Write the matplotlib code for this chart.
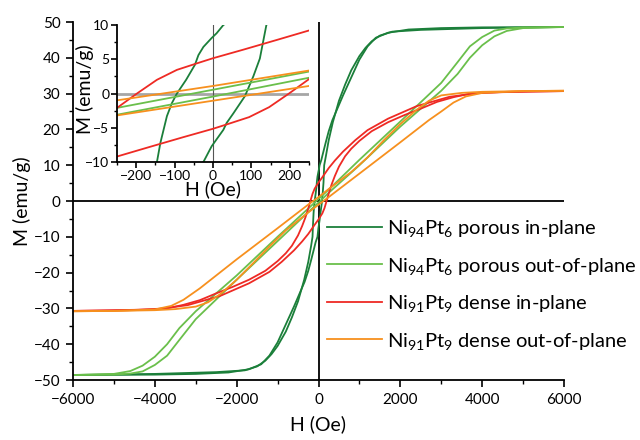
import matplotlib
matplotlib.use("Agg")
import matplotlib.pyplot as plt
from matplotlib.ticker import MultipleLocator

plt.rcParams['font.family'] = ['Lato', 'DejaVu Sans']
plt.rcParams['mathtext.fontset'] = 'custom'
plt.rcParams['mathtext.rm'] = 'Lato'
plt.rcParams['mathtext.it'] = 'Lato:italic'

# Ni94Pt6 porous in-plane
g1_h_dn = [6000, 4000, 3000, 2200, 1700, 1400, 1200, 1000, 800, 600, 450, 340, 250, 180, 120, 70, 27, 9.5, -3.5,
           -25, -38, -47, -70, -94, -107, -120, -137, -146, -180, -250, -350, -500, -650, -800, -1000, -1150,
           -1300, -1500, -1800, -2500, -4000, -6000]
g1_m_dn = [48.6, 48.5, 48.3, 47.9, 47.0, 45.6, 43.2, 39.5, 34.5, 29.5, 25.5, 22.6, 19.5, 16.5, 13.8, 11.5, 10.0, 8.8,
           8.1, 6.8, 5.6, 4.2, 2.0, 0.0, -1.4, -3.3, -7.2, -10.0, -12.5, -17.0, -22.0, -28.0, -32.5, -36.5, -40.5,
           -42.8, -44.6, -46.2, -47.3, -47.8, -48.3, -48.6]
g1_h_up = [-6000, -4000, -3000, -2200, -1700, -1400, -1200, -1000, -800, -600, -450, -340, -250, -180, -120, -70,
           -25, -3.5, 27, 35.5, 53, 83, 105, 122, 139, 180, 250, 350, 500, 650, 800, 1000, 1150, 1300, 1500, 1800,
           2500, 4000, 6000]
g1_m_up = [-48.6, -48.5, -48.3, -47.9, -47.0, -45.6, -43.2, -39.5, -34.5, -29.5, -25.5, -22.6, -19.5, -16.5, -13.8,
           -11.5, -10.0, -7.7, -5.3, -4.3, -2.9, -0.4, 2.5, 5.1, 10.0, 12.5, 17.0, 22.0, 28.0, 32.5, 36.5, 40.5,
           42.8, 44.6, 46.2, 47.3, 47.8, 48.3, 48.6]

# Ni94Pt6 porous out-of-plane
g2_h_dn = [6000, 5000, 4600, 4300, 4000, 3700, 3400, 3000, 2000, 1000, 250, 0, -250, -1000, -2000, -2500, -3000,
           -3400, -3700, -4000, -4300, -4600, -5000, -6000]
g2_m_dn = [48.6, 48.5, 48.2, 47.6, 45.8, 43.2, 38.8, 33.0, 22.2, 11.5, 3.2, 0.55, -2.1, -10.0, -20.8, -25.8, -30.8,
           -35.5, -40.0, -43.5, -46.0, -47.5, -48.3, -48.6]
g2_h_up = [-6000, -5000, -4600, -4300, -4000, -3700, -3400, -3000, -2000, -1000, -250, 0, 250, 1000, 2000, 2500,
           3000, 3400, 3700, 4000, 4300, 4600, 5000, 6000]
g2_m_up = [-48.6, -48.5, -48.2, -47.6, -45.8, -43.2, -38.8, -33.0, -22.0, -11.2, -3.1, -0.45, 2.3, 10.0, 20.8,
           25.8, 30.8, 35.5, 40.0, 43.5, 46.0, 47.5, 48.3, 48.6]

# Ni91Pt9 dense in-plane
r1_h_dn = [6000, 5000, 4000, 3200, 2400, 1700, 1200, 900, 600, 400, 250, 165, 79, 0, -42, -94, -146, -198, -250,
           -320, -400, -500, -650, -800, -1000, -1300, -1700, -2100, -2500, -2900, -3300, -3700, -4500, -6000]
r1_m_dn = [30.7, 30.6, 30.3, 29.1, 26.5, 23.0, 19.8, 17.0, 13.8, 11.3, 9.2, 7.8, 6.4, 5.15, 4.4, 3.45, 2.0, 0.0,
           -2.1, -4.6, -7.0, -9.6, -12.5, -14.6, -16.8, -19.5, -22.0, -24.0, -25.8, -27.7, -29.0, -30.0, -30.4,
           -30.7]
r1_h_up = [-6000, -5000, -4000, -3200, -2400, -1700, -1200, -900, -600, -400, -250, -165, -79, 0, 42, 94, 146, 198,
           250, 320, 400, 500, 650, 800, 1000, 1300, 1700, 2100, 2500, 2900, 3300, 3700, 4500, 6000]
r1_m_up = [-30.7, -30.6, -30.3, -29.1, -26.5, -23.0, -19.8, -17.0, -13.8, -11.3, -9.2, -7.8, -6.4, -5.15, -4.4,
           -3.45, -2.0, 0.0, 2.1, 4.6, 7.0, 9.6, 12.5, 14.6, 16.8, 19.5, 22.0, 24.0, 25.8, 27.7, 29.0, 30.0, 30.4,
           30.7]

# Ni91Pt9 dense out-of-plane
o1_h_dn = [6000, 5000, 4000, 3500, 3000, 2700, 2400, 2000, 1600, 1200, 800, 250, 0, -250, -1000, -2000, -2900,
           -3300, -3600, -4000, -5000, -6000]
o1_m_dn = [30.8, 30.7, 30.5, 30.2, 29.5, 28.0, 25.5, 21.5, 17.0, 12.2, 8.1, 3.35, 1.1, -1.0, -7.6, -16.3, -24.4,
           -27.6, -29.3, -30.3, -30.7, -30.8]
o1_h_up = [-6000, -5000, -4000, -3500, -3000, -2700, -2400, -2000, -1600, -1200, -800, -250, 0, 250, 1000, 2000,
           2700, 3000, 3300, 3600, 4000, 5000, 6000]
o1_m_up = [-30.8, -30.7, -30.5, -30.2, -29.5, -28.3, -26.0, -22.0, -17.4, -12.7, -8.2, -3.2, -1.05, 1.1, 7.65,
           16.4, 22.6, 25.0, 27.5, 29.2, 30.2, 30.7, 30.8]

labels = [r'Ni$_{94}$Pt$_{6}$ porous in-plane', r'Ni$_{94}$Pt$_{6}$ porous out-of-plane',
          r'Ni$_{91}$Pt$_{9}$ dense in-plane', r'Ni$_{91}$Pt$_{9}$ dense out-of-plane']
colors = ['#1b7f3a', '#6abf4b', '#ee2a24', '#f7901e']
loops = [(g1_h_dn, g1_m_dn, g1_h_up, g1_m_up),
         (g2_h_dn, g2_m_dn, g2_h_up, g2_m_up),
         (r1_h_dn, r1_m_dn, r1_h_up, r1_m_up),
         (o1_h_dn, o1_m_dn, o1_h_up, o1_m_up)]


def style_axes(ax, fs):
    for s in ('top', 'right'):
        ax.spines[s].set_visible(False)
    for s in ('left', 'bottom'):
        ax.spines[s].set_linewidth(1.3)
    ax.tick_params(which='major', direction='out', length=5, width=1.2, labelsize=fs, pad=2)
    ax.tick_params(which='minor', direction='out', length=3, width=1.0)


fig = plt.figure(figsize=(6.4, 4.4), dpi=100)
ax = fig.add_axes([73 / 640, 60 / 440, 491 / 640, 358 / 440])

ax.axhline(0, color='black', lw=1.3, zorder=1)
ax.axvline(0, color='black', lw=1.3, zorder=1)
for (hd, md, hu, mu), c, lab in zip(loops, colors, labels):
    ax.plot(hd, md, color=c, lw=1.3, label=lab, zorder=2)
    ax.plot(hu, mu, color=c, lw=1.3, zorder=2)

ax.set_xlim(-6000, 6000)
ax.set_ylim(-50, 50)
ax.xaxis.set_major_locator(MultipleLocator(2000))
ax.xaxis.set_minor_locator(MultipleLocator(1000))
ax.yaxis.set_major_locator(MultipleLocator(10))
ax.yaxis.set_minor_locator(MultipleLocator(5))
style_axes(ax, 11)
ax.tick_params(which='major', pad=4)
ax.set_xlabel('H (Oe)', fontsize=14, labelpad=6)
ax.set_ylabel('M (emu/g)', fontsize=14, labelpad=2)

ax.legend(loc='upper left', bbox_to_anchor=(0.517, 0.4525), frameon=False, fontsize=14.5,
          handlelength=2.75, handletextpad=0.25, labelspacing=0.82, borderpad=0, borderaxespad=0)

# inset around the origin
ins = fig.add_axes([117 / 640, 278 / 440, 192 / 640, 137 / 440])
ins.set_facecolor('white')
ins.axhline(0, color='#a6a6a6', lw=2.0, zorder=1)
ins.axvline(0, color='#555555', lw=0.8, zorder=1)
for (hd, md, hu, mu), c in zip(loops, colors):
    ins.plot(hd, md, color=c, lw=1.3, zorder=2)
    ins.plot(hu, mu, color=c, lw=1.3, zorder=2)
ins.set_xlim(-250, 250)
ins.set_ylim(-10, 10)
ins.xaxis.set_major_locator(MultipleLocator(100))
ins.xaxis.set_minor_locator(MultipleLocator(50))
ins.yaxis.set_major_locator(MultipleLocator(5))
ins.yaxis.set_minor_locator(MultipleLocator(2.5))
style_axes(ins, 10)
ins.tick_params(which='major', length=4, pad=1.5)
ins.tick_params(which='minor', length=2.5)
ins.set_xlabel('H (Oe)', fontsize=14, labelpad=-1)
ins.set_ylabel('M (emu/g)', fontsize=14)
ins.yaxis.set_label_coords(-0.12, 0.53)

fig.savefig('out.png', dpi=100)
